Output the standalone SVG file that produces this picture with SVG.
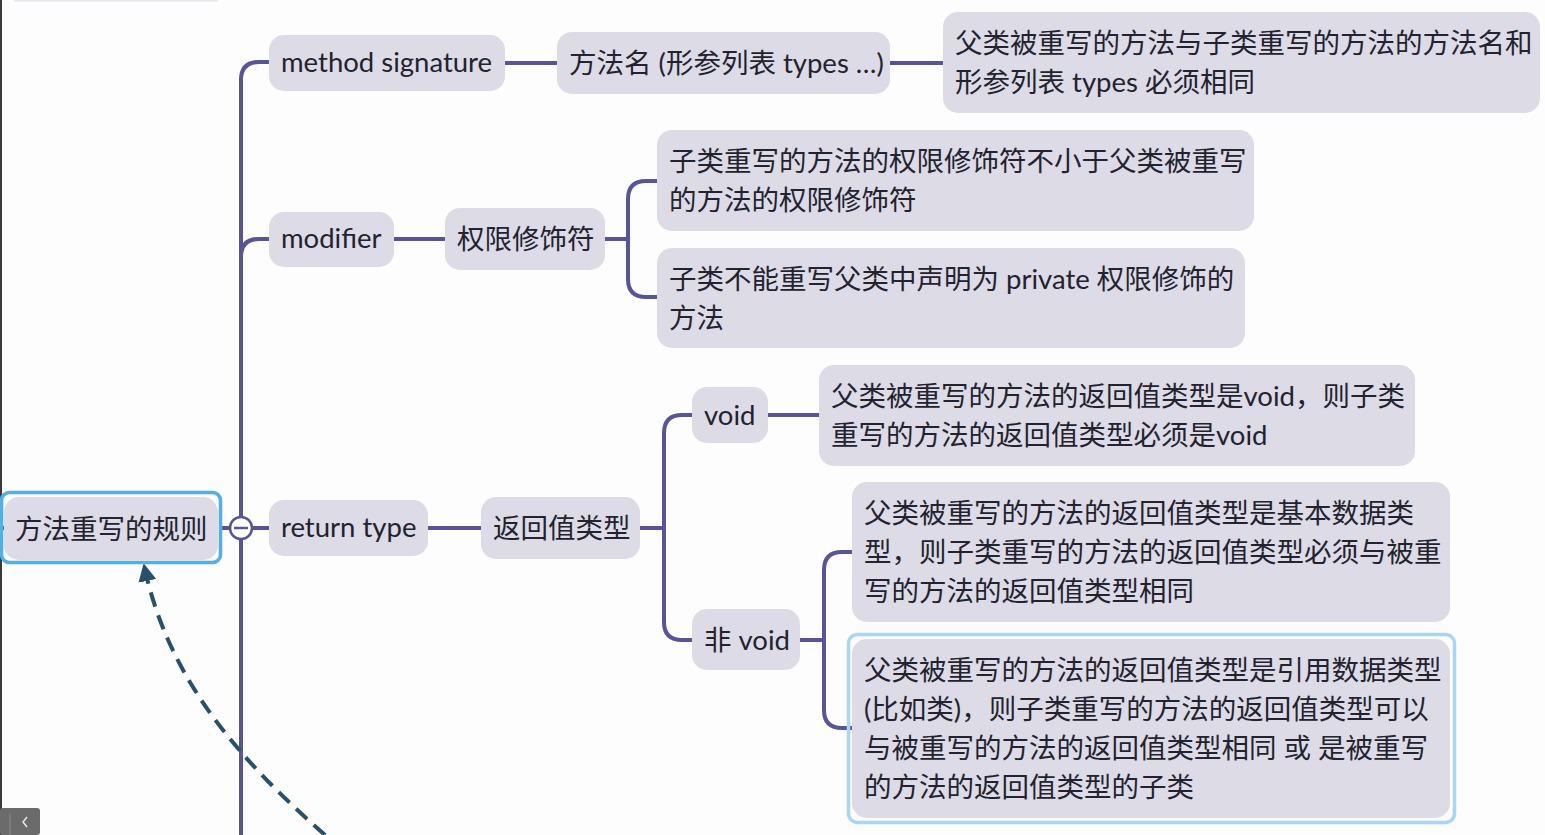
<svg xmlns="http://www.w3.org/2000/svg" width="1545" height="835" viewBox="0 0 1545 835">
<defs>
<style>
.n{fill:#dcdbe6;}
.t{font-family:"Lato","Noto Sans CJK SC",sans-serif;font-size:27.5px;fill:#23232f;}
.c{fill:none;stroke:#58539a;stroke-width:4;stroke-linecap:butt;}
.sel{fill:none;stroke:#4fb0ec;stroke-width:3.5;}
.sel2{fill:none;stroke:#a9d7f3;stroke-width:3.5;}
</style>
<marker id="ah" viewBox="0 0 10 10" refX="9" refY="5" markerWidth="4.5" markerHeight="4.5" orient="auto" markerUnits="strokeWidth">
<path d="M0,0 L10,5 L0,10 z" fill="#29506a"/>
</marker>
</defs>
<rect x="0" y="0" width="1545" height="835" fill="#fdfdfe"/>
<rect x="0" y="0" width="2" height="835" fill="#3a3a3a"/>
<line x1="14" y1="0.5" x2="218" y2="0.5" stroke="#e6e6ee" stroke-width="2"/>

<g id="connectors">
<path class="c" d="M241 835 V80 Q241 62 259 62 H270"/>
<path class="c" d="M241 257 Q241 239 259 239 H270"/>
<path class="c" d="M0 528 H5"/>
<path class="c" d="M221 528 H270"/>
<path class="c" d="M505 63 H557"/>
<path class="c" d="M890 63 H943"/>
<path class="c" d="M394 239 H445"/>
<path class="c" d="M605 239 H628"/>
<path class="c" d="M657 181 H646 Q628 181 628 199 V279 Q628 297 646 297 H657"/>
<path class="c" d="M428 528 H481"/>
<path class="c" d="M640 528 H664"/>
<path class="c" d="M692 415 H682 Q664 415 664 433 V622 Q664 640 682 640 H692"/>
<path class="c" d="M768 415 H819"/>
<path class="c" d="M800 640 H824"/>
<path class="c" d="M852 552 H842 Q824 552 824 570 V710 Q824 728 842 728 H852"/>
<path d="M325 835 C240 760 168 680 144 565" fill="none" stroke="#29506a" stroke-width="4" stroke-dasharray="15 9" marker-end="url(#ah)"/>
</g>

<g id="root">
<rect class="n" x="4" y="497" width="214" height="63" rx="15"/>
<rect class="sel" x="1.5" y="492.5" width="219" height="70" rx="8"/>
<text class="t" x="15" y="539">方法重写的规则</text>
</g>
<g id="collapse">
<circle cx="241" cy="528" r="11" fill="#ffffff" stroke="#58539a" stroke-width="2.5"/>
<line x1="234" y1="528" x2="248" y2="528" stroke="#58539a" stroke-width="2.5"/>
</g>

<g id="method-signature">
<rect class="n" x="269" y="35" width="236" height="56" rx="15"/>
<text class="t" x="281" y="72">method signature</text>
</g>
<g id="method-name">
<rect class="n" x="557" y="32" width="333" height="62" rx="15"/>
<text class="t" x="569" y="73">方法名 (形参列表 types …)</text>
</g>
<g id="name-rule">
<rect class="n" x="943" y="12" width="597" height="101" rx="15"/>
<text class="t" x="955" y="53">父类被重写的方法与子类重写的方法的方法名和</text>
<text class="t" x="955" y="92">形参列表 types 必须相同</text>
</g>

<g id="modifier">
<rect class="n" x="269" y="212" width="125" height="55" rx="15"/>
<text class="t" x="281" y="248">modifier</text>
</g>
<g id="access-modifier">
<rect class="n" x="445" y="208" width="160" height="62" rx="15"/>
<text class="t" x="457" y="249">权限修饰符</text>
</g>
<g id="modifier-rule-1">
<rect class="n" x="657" y="130" width="597" height="101" rx="15"/>
<text class="t" x="669" y="171">子类重写的方法的权限修饰符不小于父类被重写</text>
<text class="t" x="669" y="210">的方法的权限修饰符</text>
</g>
<g id="modifier-rule-2">
<rect class="n" x="657" y="248" width="588" height="100" rx="15"/>
<text class="t" x="669" y="289">子类不能重写父类中声明为 private 权限修饰的</text>
<text class="t" x="669" y="328">方法</text>
</g>

<g id="return-type">
<rect class="n" x="269" y="500" width="159" height="56" rx="15"/>
<text class="t" x="281" y="537">return type</text>
</g>
<g id="return-value-type">
<rect class="n" x="481" y="497" width="159" height="62" rx="15"/>
<text class="t" x="493" y="538">返回值类型</text>
</g>
<g id="void">
<rect class="n" x="692" y="387" width="76" height="56" rx="15"/>
<text class="t" x="704" y="425">void</text>
</g>
<g id="void-rule">
<rect class="n" x="819" y="365" width="596" height="101" rx="15"/>
<text class="t" x="831" y="406">父类被重写的方法的返回值类型是void，则子类</text>
<text class="t" x="831" y="445">重写的方法的返回值类型必须是void</text>
</g>
<g id="non-void">
<rect class="n" x="692" y="609" width="108" height="61" rx="15"/>
<text class="t" x="704" y="650">非 void</text>
</g>
<g id="primitive-rule">
<rect class="n" x="852" y="482" width="598" height="140" rx="15"/>
<text class="t" x="864" y="523">父类被重写的方法的返回值类型是基本数据类</text>
<text class="t" x="864" y="562">型，则子类重写的方法的返回值类型必须与被重</text>
<text class="t" x="864" y="601">写的方法的返回值类型相同</text>
</g>
<g id="reference-rule">
<rect class="n" x="852" y="639" width="598" height="179" rx="15"/>
<rect class="sel2" x="848.5" y="634.5" width="606" height="188" rx="9"/>
<text class="t" x="864" y="680">父类被重写的方法的返回值类型是引用数据类型</text>
<text class="t" x="864" y="719">(比如类)，则子类重写的方法的返回值类型可以</text>
<text class="t" x="864" y="758">与被重写的方法的返回值类型相同 或 是被重写</text>
<text class="t" x="864" y="797">的方法的返回值类型的子类</text>
</g>

<g id="ui-button">
<rect x="0" y="808" width="40" height="27" rx="3" fill="#6b6b6b"/>
<line x1="10" y1="813" x2="10" y2="835" stroke="#8a8a8a" stroke-width="1"/>
<polyline points="27,817 23,822 27,827" fill="none" stroke="#e8e8e8" stroke-width="1.5"/>
</g>
</svg>
